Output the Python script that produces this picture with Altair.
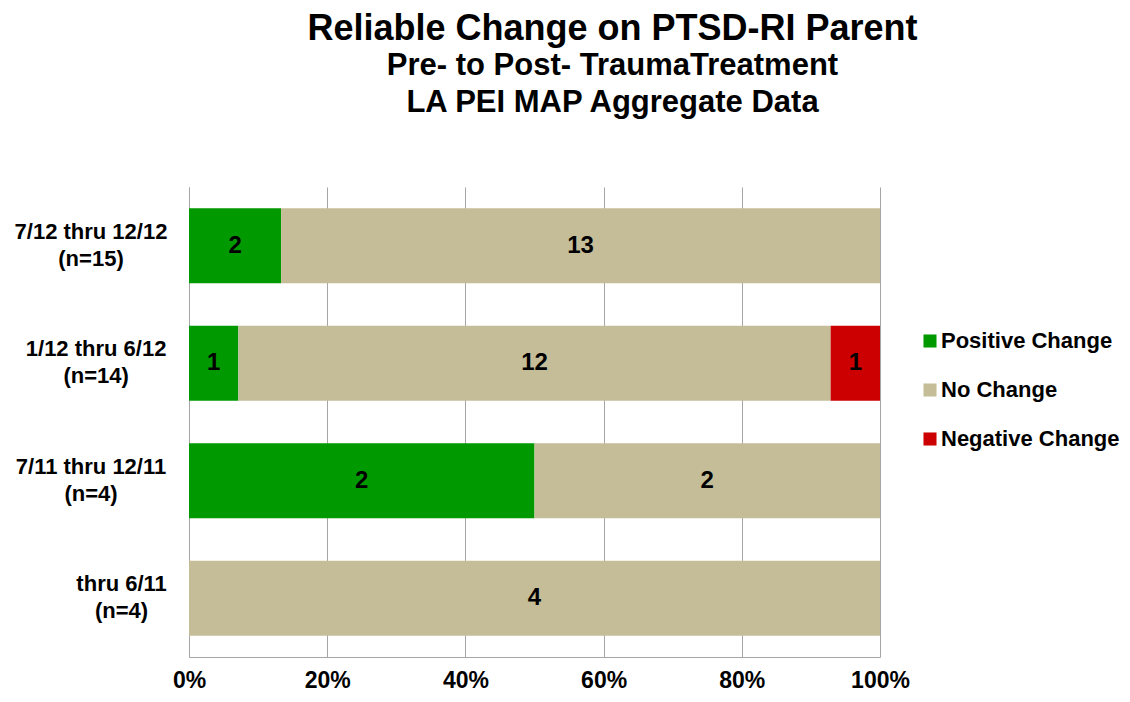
import altair as alt
import pandas as pd

# ---- data ----
periods = ["7/12 thru 12/12|(n=15)", "1/12 thru 6/12|(n=14)",
           "7/11 thru 12/11|(n=4)", "thru 6/11|(n=4)"]
categories = ["Positive Change", "No Change", "Negative Change"]
positive = [2, 1, 2, 0]
no_change = [13, 12, 2, 4]
negative = [0, 1, 0, 0]
colors = ["#009900", "#c4bd97", "#cc0000"]
x_ticks = [0, 0.2, 0.4, 0.6, 0.8, 1.0]

rows = []
for i, p in enumerate(periods):
    for j, (cat, vals) in enumerate(zip(categories, [positive, no_change, negative])):
        rows.append({"period": p, "category": cat, "order": j, "count": vals[i]})
df = pd.DataFrame(rows)

FONT = "Liberation Sans"

base = alt.Chart(df).transform_stack(
    stack="count", as_=["x0", "x1"], groupby=["period"],
    sort=[alt.SortField("order", order="ascending")], offset="normalize"
).transform_calculate(mid="(datum.x0 + datum.x1) / 2")

y_enc = alt.Y(
    "period:N", sort=periods, title=None,
    scale=alt.Scale(paddingInner=0.36, paddingOuter=0.18),
    axis=alt.Axis(
        labelExpr="split(datum.label, '|')",
        labelAlign="center", labelBaseline="middle", labelOffset=-14,
        labelPadding={"expr": "22 + length(split(datum.value, '|')[0]) * 5.1"},
        labelFont=FONT, labelFontSize=22, labelFontWeight="bold",
        labelColor="black", labelLineHeight=27, labelLimit=400,
        ticks=False, domainColor="#a6a6a6", grid=False,
    ),
)

bars = base.mark_bar().encode(
    x=alt.X("x0:Q", title=None,
            scale=alt.Scale(domain=[0, 1]),
            axis=alt.Axis(values=x_ticks, format="%", grid=True, gridColor="#a6a6a6",
                          ticks=False, domainColor="#a6a6a6", labelFlush=False,
                          labelFont=FONT, labelFontSize=23, labelFontWeight="bold",
                          labelColor="black", labelPadding=12)),
    x2="x1:Q",
    y=y_enc,
    color=alt.Color("category:N", scale=alt.Scale(domain=categories, range=colors),
                    sort=categories,
                    legend=alt.Legend(title=None, orient="none", legendX=730, legendY=143,
                                      symbolType="square", symbolSize=170, symbolStrokeWidth=0,
                                      labelFont=FONT, labelFontSize=22, labelFontWeight="bold",
                                      labelColor="black", rowPadding=27, labelOffset=0,
                                      labelLimit=400)),
)

labels = base.transform_filter("datum.count > 0").mark_text(
    font=FONT, fontSize=24, fontWeight="bold", color="black", baseline="middle"
).encode(
    x="mid:Q",
    y=alt.Y("period:N", sort=periods),
    text="count:Q",
)

chart = alt.layer(bars, labels).properties(
    width=691, height=470,
    autosize=alt.AutoSizeParams(type="none"),
    padding={"left": 181, "top": 179, "right": 242, "bottom": 37},
    title=alt.TitleParams(
        text="Reliable Change on PTSD-RI Parent",
        subtitle=["Pre- to Post- TraumaTreatment", "LA PEI MAP Aggregate Data"],
        anchor="middle", dx=78, offset=68,
        font=FONT, fontSize=36, fontWeight="bold", color="black",
        subtitleFont=FONT, subtitleFontSize=31, subtitleFontWeight="bold",
        subtitleColor="black", subtitleLineHeight=37, subtitlePadding=3,
    ),
).configure_view(stroke=None)

chart.save("out.html", embed_options={"renderer": "svg", "actions": False})
